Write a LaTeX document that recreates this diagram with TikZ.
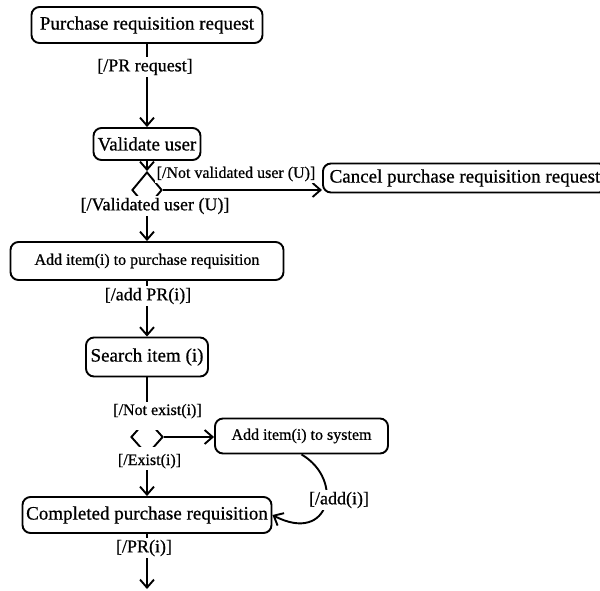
\documentclass[tikz,border=0pt]{standalone}
\usepackage{fontspec}
\setmainfont[FakeBold=0.7]{Liberation Serif}
\usetikzlibrary{arrows.meta,shapes.geometric}
\begin{document}
\begin{tikzpicture}[x=1pt,y=-1pt,
  act/.style={draw, line width=1.9pt, rounded corners=8pt, inner sep=0pt,
    font=\fontsize{19}{21}\selectfont},
  actsmall/.style={act, font=\fontsize{16}{18}\selectfont},
  guard/.style={fill=white, inner sep=1.5pt, font=\fontsize{18}{20}\selectfont},
  guardsmall/.style={guard, font=\fontsize{16}{18}\selectfont},
  decision/.style={draw, diamond, line width=1.9pt, minimum width=30pt,
    minimum height=36pt, inner sep=0pt},
  flow/.style={line width=1.9pt, -{Straight Barb[length=8pt,width=14pt]}}
]
\clip (0,0) rectangle (600,590);

% activities
\node[act, minimum width=231pt, minimum height=36pt] (pr) at (147,25) {Purchase requisition request};
\node[act, minimum width=107pt, minimum height=32pt] (val) at (147,144) {Validate user};
\node[decision] (d1) at (147,190) {};
\node[act, anchor=west, minimum width=284pt, minimum height=29pt] (cancel) at (322,178) {Cancel purchase requisition request};
\node[actsmall, minimum width=273pt, minimum height=38pt] (addpr) at (147,261) {Add item(i) to purchase requisition};
\node[act, minimum width=122pt, minimum height=39pt] (search) at (147,357) {Search item (i)};
\node[decision, minimum width=32pt] (d2) at (147,437) {};
\node[actsmall, minimum width=173pt, minimum height=35pt] (addsys) at (301.5,436) {Add item(i) to system};
\node[act, minimum width=249pt, minimum height=36pt] (done) at (147,515) {Completed purchase requisition};
\coordinate (out) at (147,589);

% transitions
\draw[flow] (pr) -- (val);
\draw[flow] (val) -- (d1);
\draw[flow] (d1.east) -- (d1.east -| cancel.west);
\draw[flow] (d1) -- (addpr);
\draw[flow] (addpr) -- (search);
\draw[line width=1.9pt] (search) -- (d2);
\draw[flow] (d2.east) -- (d2.east -| addsys.west);
\draw[flow] (d2) -- (done);
\draw[flow] (addsys.south) .. controls (345,480) and (330,545) .. (done.east);
\draw[flow] (done) -- (out);

% guards (white fill hides the parts of the lines beneath them)
\node[guard] (g1) at (145,67) {[/PR request]};
\node[guardsmall] (g2) at (236,174) {[/Not validated user (U)]};
\node[guard] (g3) at (155,206) {[/Validated user (U)]};
\node[guard] (g4) at (148,296) {[/add PR(i)]};
\node[guardsmall, anchor=base, text depth=13pt] (g5) at (157.5,415) {[/Not exist(i)]};
\node[guardsmall, anchor=base, text height=17pt] (g6) at (149.5,465) {[/Exist(i)]};
\node[guard] (g7) at (339,500) {[/add(i)]};
\node[guard] (g8) at (144,548) {[/PR(i)]};
\end{tikzpicture}
\end{document}
